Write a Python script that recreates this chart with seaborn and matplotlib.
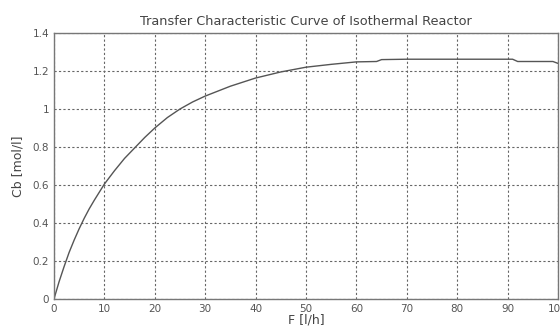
import matplotlib
matplotlib.use("Agg")
import matplotlib.pyplot as plt
import seaborn as sns
import pandas as pd

F = [0, 1, 2, 3, 4, 5, 6, 7, 8, 10, 12, 14, 16, 18, 20, 22.5, 25, 27.5, 30, 35, 40, 45, 50, 55, 60, 64, 65, 70, 80, 90, 91, 92, 95, 99, 100]
Cb = [0, 0.09, 0.17, 0.245, 0.31, 0.37, 0.425, 0.475, 0.52, 0.605, 0.675, 0.74, 0.795, 0.85, 0.90, 0.955, 1.00, 1.037, 1.068,
      1.12, 1.163, 1.195, 1.22, 1.235, 1.248, 1.25, 1.26, 1.262, 1.262, 1.262, 1.262, 1.25, 1.25, 1.25, 1.24]
xticks = [0, 10, 20, 30, 40, 50, 60, 70, 80, 90, 100]
yticks = [0, 0.2, 0.4, 0.6, 0.8, 1, 1.2, 1.4]
ytick_labels = ["0", "0.2", "0.4", "0.6", "0.8", "1", "1.2", "1.4"]

sns.set_style("white")
plt.rcParams['font.family'] = ['DejaVu Sans']

fig = plt.figure(figsize=(5.6, 3.32), dpi=100)
ax = fig.add_axes([0.0964, 0.0994, 0.9, 0.8012])
df = pd.DataFrame({"F": F, "Cb": Cb})
sns.lineplot(data=df, x="F", y="Cb", ax=ax, color="#555555", linewidth=1.0)

ax.set_xlim(0, 100)
ax.set_ylim(0, 1.4)
ax.set_xticks(xticks)
ax.set_xticklabels([str(t) for t in xticks])
ax.set_yticks(yticks)
ax.set_yticklabels(ytick_labels)
ax.grid(True, linestyle=(0, (2, 2)), color="#666666", linewidth=0.8)
ax.tick_params(direction="in", length=4, labelsize=7.5, colors="#555555", labelcolor="#555555")
for s in ax.spines.values():
    s.set_color("#777777")
    s.set_linewidth(1.0)
ax.set_title("Transfer Characteristic Curve of Isothermal Reactor", fontsize=9.3, color="#444444", pad=6)
ax.set_xlabel("F [l/h]", fontsize=9, color="#444444", labelpad=0)
ax.set_ylabel("Cb [mol/l]", fontsize=9, color="#444444", labelpad=6)

fig.savefig("out.png", dpi=100)
